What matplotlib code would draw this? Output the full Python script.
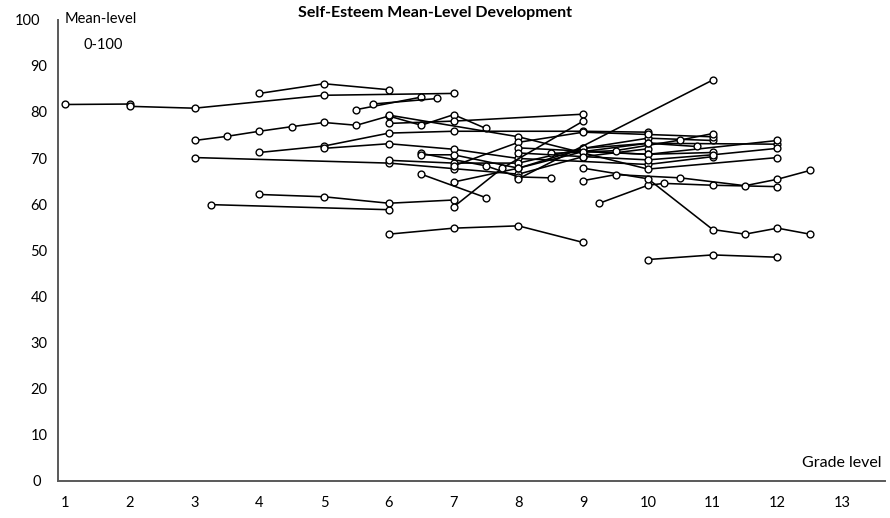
import matplotlib
matplotlib.use("Agg")
import matplotlib.pyplot as plt
from matplotlib.transforms import ScaledTranslation

# Mean self-esteem (0-100) by grade level, one polyline per study sample
grades_s01 = [1, 2]
means_s01 = [81.6, 81.7]
grades_s02 = [2, 3, 5, 7]
means_s02 = [81.2, 80.8, 83.6, 84.0]
grades_s03 = [4, 5, 6]
means_s03 = [84.0, 86.1, 84.8]
grades_s04 = [5.5, 6.5]
means_s04 = [80.5, 83.2]
grades_s05 = [5.75, 6.75]
means_s05 = [81.7, 82.9]
grades_s06 = [3, 3.5, 4, 4.5, 5, 5.5, 6, 6.5, 7, 7.5]
means_s06 = [73.8, 74.7, 75.8, 76.8, 77.7, 77.1, 79.1, 77.1, 79.4, 76.4]
grades_s07 = [4, 5, 6, 7, 9, 10]
means_s07 = [71.2, 72.6, 75.4, 75.8, 75.8, 75.6]
grades_s08 = [5, 6, 7, 8, 10, 11]
means_s08 = [72.1, 73.1, 71.9, 69.9, 68.6, 70.3]
grades_s09 = [3, 6, 7, 8, 9, 10]
means_s09 = [70.1, 68.9, 67.7, 66.5, 70.3, 72.0]
grades_s10 = [3.25, 6]
means_s10 = [59.9, 58.8]
grades_s11 = [4, 5, 6, 7]
means_s11 = [62.1, 61.6, 60.2, 60.9]
grades_s12 = [6, 7, 8, 9]
means_s12 = [53.5, 54.8, 55.3, 51.7]
grades_s13 = [6, 7, 9]
means_s13 = [77.5, 78.0, 79.5]
grades_s14 = [6, 8, 10, 12]
means_s14 = [79.3, 74.6, 67.6, 70.1]
grades_s15 = [6, 7, 8, 9, 10, 11]
means_s15 = [69.5, 68.9, 68.9, 72.1, 74.3, 73.8]
grades_s16 = [6.5, 7.5, 8, 8.5]
means_s16 = [71.0, 68.3, 65.9, 65.7]
grades_s17 = [6.5, 7, 8, 9, 10, 11]
means_s17 = [70.7, 70.7, 67.8, 71.4, 70.8, 71.2]
grades_s18 = [7, 8, 9, 10, 12]
means_s18 = [64.8, 67.8, 72.1, 73.2, 73.0]
grades_s19 = [7, 7.75, 9]
means_s19 = [59.4, 67.8, 78.0]
grades_s20 = [8, 11]
means_s20 = [65.5, 86.9]
grades_s21 = [7, 8, 9, 10, 11]
means_s21 = [68.3, 73.4, 75.6, 75.1, 74.6]
grades_s22 = [8, 10, 12]
means_s22 = [72.2, 70.8, 73.8]
grades_s23 = [9.25, 10, 10.25, 11, 12]
means_s23 = [60.2, 64.1, 64.5, 64.1, 63.8]
grades_s24 = [6.5, 7.5]
means_s24 = [66.5, 61.4]
grades_s25 = [9, 10, 11, 11.5, 12, 12.5]
means_s25 = [67.8, 65.5, 54.5, 53.5, 54.8, 53.5]
grades_s26 = [10, 11, 12]
means_s26 = [48.0, 49.0, 48.5]
grades_s27 = [9, 9.5, 10.5, 11.5, 12, 12.5]
means_s27 = [65.1, 66.4, 65.7, 64.0, 65.4, 67.3]
grades_s28 = [8.5, 9.5, 10.5, 11]
means_s28 = [71.0, 71.6, 73.9, 75.3]
grades_s29 = [9, 10, 10.75]
means_s29 = [71.4, 73.2, 72.5]
grades_s30 = [8, 9, 10, 11, 12]
means_s30 = [71.1, 70.3, 69.6, 70.7, 72.1]

studies = [
    (grades_s01, means_s01), (grades_s02, means_s02), (grades_s03, means_s03),
    (grades_s04, means_s04), (grades_s05, means_s05), (grades_s06, means_s06),
    (grades_s07, means_s07), (grades_s08, means_s08), (grades_s09, means_s09),
    (grades_s10, means_s10), (grades_s11, means_s11), (grades_s12, means_s12),
    (grades_s13, means_s13), (grades_s14, means_s14), (grades_s15, means_s15),
    (grades_s16, means_s16), (grades_s17, means_s17), (grades_s18, means_s18),
    (grades_s19, means_s19), (grades_s20, means_s20), (grades_s21, means_s21),
    (grades_s22, means_s22), (grades_s23, means_s23), (grades_s24, means_s24),
    (grades_s25, means_s25), (grades_s26, means_s26), (grades_s27, means_s27),
    (grades_s28, means_s28), (grades_s29, means_s29), (grades_s30, means_s30),
]

x_ticks = list(range(1, 14))
y_ticks = list(range(0, 101, 10))

plt.rcParams['font.family'] = ['Lato', 'DejaVu Sans']

W, H = 890, 518
fig = plt.figure(figsize=(W / 100, H / 100), dpi=100)
ax = fig.add_axes([58 / W, 1 - 481 / H, (885 - 58) / W, (481 - 19.6) / H])

for g, m in studies:
    ax.plot(g, m, color='black', lw=1.15, marker='o', markersize=4.9,
            markerfacecolor='white', markeredgecolor='black',
            markeredgewidth=1.0, zorder=3)

ax.set_xlim(0.892, 13.66)
ax.set_ylim(0, 100)
ax.set_xticks(x_ticks)
ax.set_xticklabels([str(t) for t in x_ticks], fontsize=10.5)
ax.set_yticks(y_ticks)
ax.set_yticklabels([str(t) for t in y_ticks], fontsize=10.5)
ax.tick_params(axis='x', length=0, pad=11)
ax.tick_params(axis='y', length=0, pad=7.5)

# the single-digit and three-digit labels sit a little further left
for lab in ax.get_yticklabels():
    if lab.get_text() in ('0', '100'):
        lab.set_transform(lab.get_transform() +
                          ScaledTranslation(-7 / 100, 0, fig.dpi_scale_trans))

for side in ('top', 'right'):
    ax.spines[side].set_visible(False)
for side in ('left', 'bottom'):
    ax.spines[side].set_color('#595959')
    ax.spines[side].set_linewidth(1.4)

fig.text(435 / W, 1 - 13 / H, 'Self-Esteem Mean-Level Development',
         ha='center', va='center', fontsize=11.5, fontweight='bold')
fig.text(101 / W, 1 - 19 / H, 'Mean-level', ha='center', va='center',
         fontsize=10.5)
fig.text(103 / W, 1 - 45 / H, '0-100', ha='center', va='center',
         fontsize=10.5)
fig.text(882 / W, 1 - 463 / H, 'Grade level', ha='right', va='center',
         fontsize=11.5)

fig.savefig('out.png', dpi=100)
